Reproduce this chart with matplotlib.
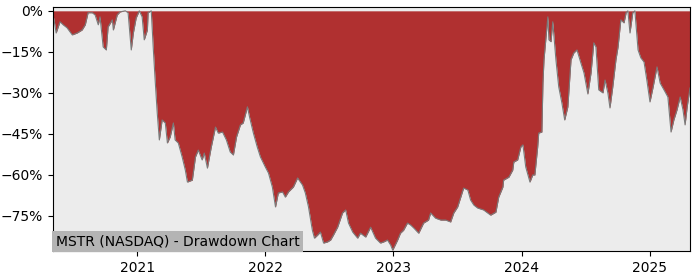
import matplotlib
matplotlib.use("Agg")
import matplotlib.pyplot as plt
import matplotlib.dates as mdates
from matplotlib.ticker import MultipleLocator, PercentFormatter
import pandas as pd

ticker = "MSTR (NASDAQ) - Drawdown Chart"

# drawdown from running peak (percent)
dates = [
    "2020-05-06", "2020-05-09", "2020-05-15", "2020-05-26", "2020-06-04", "2020-06-15",
    "2020-06-30", "2020-07-14", "2020-07-28", "2020-08-06", "2020-08-14", "2020-08-26",
    "2020-09-03", "2020-09-12", "2020-09-17", "2020-09-26", "2020-10-05", "2020-10-10",
    "2020-10-22", "2020-10-25", "2020-11-05", "2020-11-13", "2020-11-28", "2020-12-06",
    "2020-12-15", "2020-12-21", "2020-12-29", "2021-01-07", "2021-01-15", "2021-01-21",
    "2021-01-30", "2021-02-01", "2021-02-10", "2021-02-16", "2021-02-21", "2021-02-27",
    "2021-03-05", "2021-03-13", "2021-03-22", "2021-03-28", "2021-04-05", "2021-04-14",
    "2021-04-19", "2021-04-28", "2021-05-09", "2021-05-18", "2021-05-24", "2021-06-07",
    "2021-06-16", "2021-06-24", "2021-07-05", "2021-07-11", "2021-07-20", "2021-07-31",
    "2021-08-12", "2021-08-20", "2021-09-01", "2021-09-12", "2021-09-23", "2021-10-02",
    "2021-10-11", "2021-10-22", "2021-10-30", "2021-11-11", "2021-11-17", "2021-11-28",
    "2021-12-09", "2021-12-18", "2022-01-01", "2022-01-10", "2022-01-21", "2022-01-30",
    "2022-02-07", "2022-02-19", "2022-02-27", "2022-03-08", "2022-03-22", "2022-04-03",
    "2022-04-17", "2022-04-25", "2022-05-04", "2022-05-15", "2022-05-21", "2022-05-30",
    "2022-06-07", "2022-06-16", "2022-06-27", "2022-07-06", "2022-07-14", "2022-07-26",
    "2022-08-09", "2022-08-18", "2022-08-26", "2022-09-07", "2022-09-21", "2022-09-29",
    "2022-10-14", "2022-10-28", "2022-11-11", "2022-11-25", "2022-12-04", "2022-12-15",
    "2022-12-24", "2022-12-30", "2023-01-13", "2023-01-21", "2023-01-30", "2023-02-10",
    "2023-02-19", "2023-02-28", "2023-03-14", "2023-03-28", "2023-04-11", "2023-04-17",
    "2023-05-01", "2023-05-16", "2023-05-30", "2023-06-13", "2023-06-22", "2023-07-03",
    "2023-07-12", "2023-07-20", "2023-08-01", "2023-08-09", "2023-08-18", "2023-08-29",
    "2023-09-15", "2023-10-05", "2023-10-20", "2023-10-28", "2023-11-09", "2023-11-11",
    "2023-11-26", "2023-12-07", "2023-12-10", "2023-12-21", "2023-12-30", "2024-01-05",
    "2024-01-13", "2024-01-25", "2024-02-02", "2024-02-08", "2024-02-16", "2024-02-19",
    "2024-02-28", "2024-03-02", "2024-03-05", "2024-03-16", "2024-03-19", "2024-03-25",
    "2024-03-30", "2024-04-08", "2024-04-16", "2024-04-25", "2024-05-03", "2024-05-12",
    "2024-05-21", "2024-05-29", "2024-06-07", "2024-06-18", "2024-06-27", "2024-07-08",
    "2024-07-17", "2024-07-25", "2024-07-31", "2024-08-08", "2024-08-20", "2024-08-26",
    "2024-09-03", "2024-09-09", "2024-09-17", "2024-09-26", "2024-10-02", "2024-10-10",
    "2024-10-19", "2024-10-25", "2024-10-30", "2024-11-05", "2024-11-13", "2024-11-19",
    "2024-11-28", "2024-12-06", "2024-12-15", "2024-12-23", "2025-01-01", "2025-01-10",
    "2025-01-21", "2025-01-30", "2025-02-10", "2025-02-21", "2025-03-02", "2025-03-10",
    "2025-03-19", "2025-03-28", "2025-04-05", "2025-04-11", "2025-04-17", "2025-04-25",
]
drawdown = [
    -1.5, -3.3, -8.1, -4.0, -5.1, -6.2,
    -8.8, -8.1, -7.0, -5.1, -0.7, -0.7,
    -1.5, -5.1, -2.2, -13.2, -14.3, -5.9,
    -3.3, -7.0, -1.5, -0.4, 0.0, -0.7,
    -14.3, -8.1, -2.6, 0.0, -2.2, -10.6,
    -7.0, -0.7, 0.0, -14.3, -25.2, -37.3,
    -47.2, -39.9, -41.0, -48.3, -46.1, -41.0,
    -47.2, -48.3, -53.4, -58.2, -62.6, -61.9,
    -53.4, -50.9, -54.5, -52.0, -57.5, -49.8,
    -42.5, -44.7, -44.3, -47.2, -51.6, -52.7,
    -46.1, -41.7, -41.0, -35.1, -38.8, -44.7,
    -49.8, -53.4, -57.1, -59.3, -64.4, -71.7,
    -66.6, -66.2, -68.1, -66.2, -64.4, -61.1,
    -63.7, -66.6, -71.7, -80.2, -83.1, -82.0,
    -80.9, -84.9, -84.5, -83.8, -82.0, -79.1,
    -73.9, -72.8, -77.6, -80.9, -83.1, -81.3,
    -82.7, -79.1, -83.1, -84.9, -84.5, -83.8,
    -85.6, -87.5, -83.8, -81.3, -80.2, -77.6,
    -78.3, -79.4, -81.3, -77.6, -76.5, -73.9,
    -75.8, -76.5, -76.5, -77.2, -73.9, -71.7,
    -68.1, -64.8, -65.5, -69.2, -71.0, -72.1,
    -72.8, -74.7, -73.6, -68.1, -64.4, -61.9,
    -60.8, -58.2, -55.3, -54.5, -49.8, -49.0,
    -57.1, -62.6, -60.0, -60.0, -49.8, -44.7,
    -44.3, -26.4, -17.9, -2.2, -10.6, -11.3,
    -4.0, -17.9, -27.8, -33.7, -39.9, -35.1,
    -17.9, -15.4, -14.3, -19.0, -22.7, -30.4,
    -22.7, -11.7, -13.2, -28.9, -30.0, -25.3,
    -30.0, -35.5, -27.8, -17.9, -13.2, -3.3,
    -4.4, -0.7, 0.0, -8.1, -0.7, 0.0,
    -14.3, -17.2, -18.7, -25.3, -33.3, -27.8,
    -20.5, -26.4, -28.9, -31.5, -44.3, -39.9,
    -36.2, -31.5, -36.2, -41.7, -35.1, -28.2,
]

dd = pd.Series(drawdown, index=pd.to_datetime(dates))

fig = plt.figure(figsize=(7, 2.8), dpi=100)
ax = fig.add_axes([0.0757, 0.1036, 0.91, 0.8714])
ax.set_facecolor("#ececec")

# red area between zero and the drawdown curve
ax.fill_between(dd.index, dd.values, 0, color="#b03030", linewidth=0)
ax.plot(dd.index, dd.values, color="#7a7a7a", linewidth=0.8)

ax.set_xlim(dd.index[0], dd.index[-1])
ax.set_ylim(-87.8, 1.4)
ax.yaxis.set_major_locator(MultipleLocator(15))
ax.yaxis.set_major_formatter(PercentFormatter(100, decimals=0))
ax.xaxis.set_major_locator(mdates.YearLocator())
ax.xaxis.set_major_formatter(mdates.DateFormatter("%Y"))

ax.text(0.004, 0.012, ticker, transform=ax.transAxes, fontsize=10,
        ha="left", va="bottom",
        bbox=dict(facecolor="#b4b4b4", edgecolor="none", pad=2.5))

fig.savefig("out.png")
